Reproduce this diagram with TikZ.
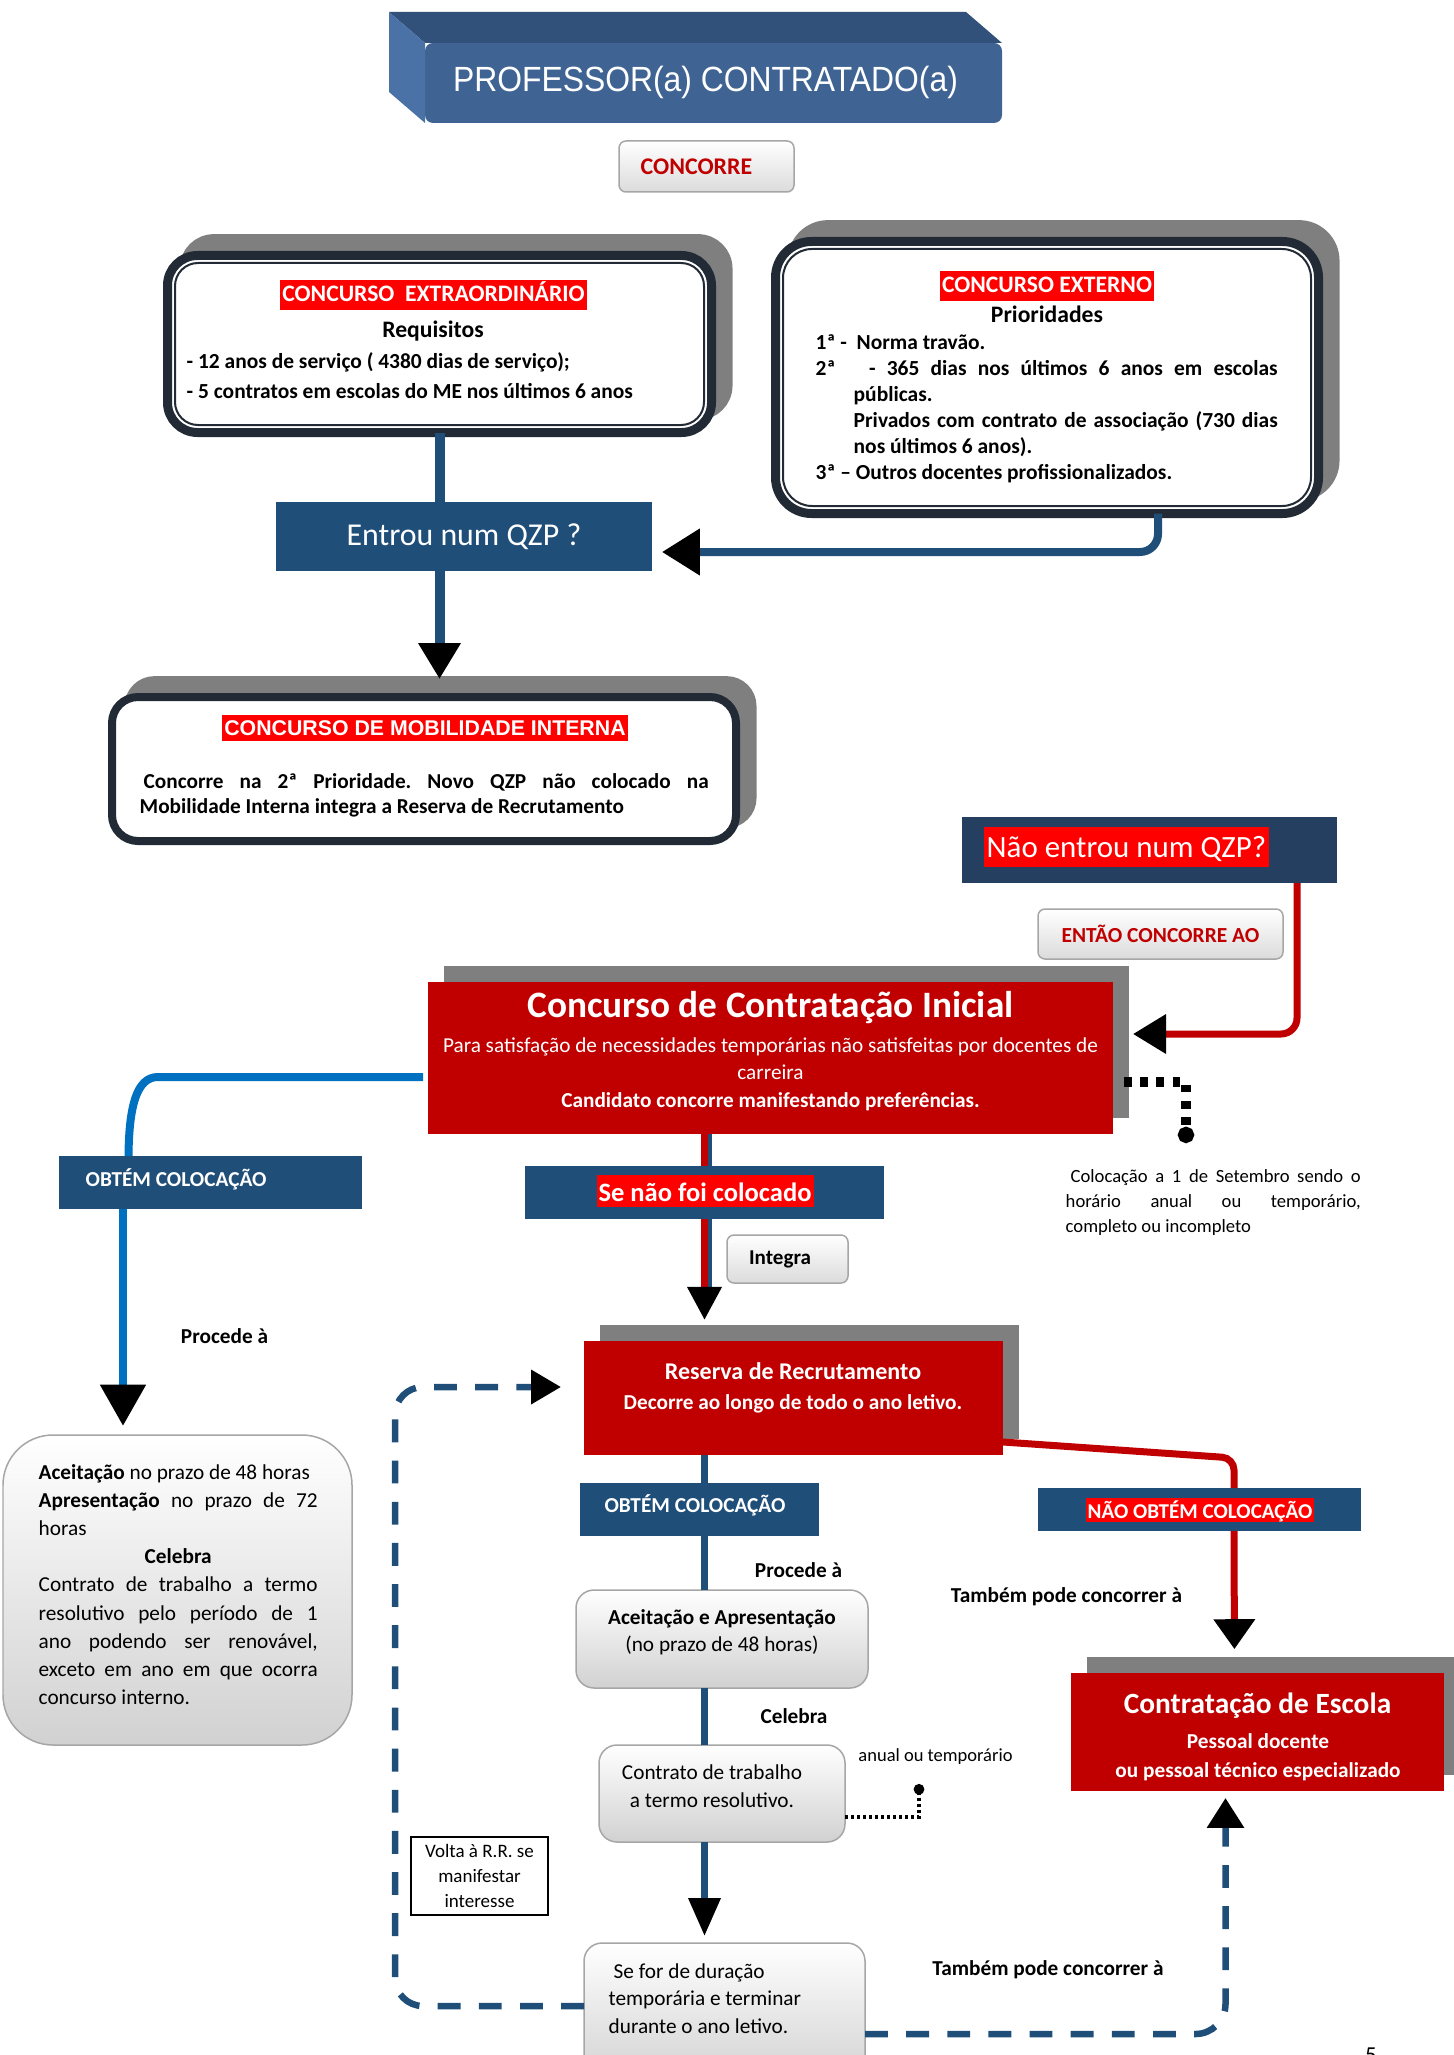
\documentclass[tikz,border=0pt]{standalone}
\usepackage{fontspec}
\setmainfont{Carlito}
\newfontfamily\arialf{Liberation Sans}
\newfontfamily\titlef[FakeStretch=0.91]{Liberation Sans}
\usetikzlibrary{calc,arrows.meta,shadows}
\frenchspacing
\newlength{\pxu}
\setlength{\pxu}{0.01cm}
\definecolor{navyq}{HTML}{1F4E79}
\definecolor{navyd}{HTML}{243F60}
\definecolor{redq}{HTML}{C00000}
\definecolor{redhl}{HTML}{FF0000}
\definecolor{blueq}{HTML}{0070C0}
\definecolor{shadowq}{HTML}{7F7F7F}
\definecolor{frameq}{HTML}{222A35}
\definecolor{titfront}{HTML}{3F6493}
\definecolor{tittop}{HTML}{31507A}
\definecolor{titside}{HTML}{4A72A6}
\definecolor{btnline}{HTML}{A6A6A6}

\begin{document}
\begin{tikzpicture}[x=0.01cm, y=-0.01cm,
  txt/.style={inner sep=0pt, font=\fontsize{6.05pt}{7.4pt}\selectfont},
  txtb/.style={inner sep=0pt, font=\fontsize{6.05pt}{7.4pt}\selectfont\bfseries},
  wtxt/.style={txtb, text=white},
  framebox/.style={draw=frameq, fill=white, line width=9\pxu, outer sep=0pt, inner sep=0pt,
    general shadow={fill=shadowq, draw=shadowq, shadow xshift=4.7pt, shadow yshift=4.8pt}},
  navybox/.style={fill=navyq, outer sep=0pt, inner sep=0pt},
  redbox/.style={fill=redq, outer sep=0pt, inner sep=0pt,
    general shadow={fill=shadowq, shadow xshift=4.55pt, shadow yshift=4.55pt}},
  btn/.style={draw=btnline, line width=1.5\pxu, rounded corners=7\pxu, top color=white, bottom color=black!14, outer sep=0pt, inner sep=0pt},
  gbox/.style={draw=btnline, line width=1.5\pxu, top color=white, bottom color=black!18, outer sep=0pt, inner sep=0pt},
  redtag/.style={fill=redhl, text=white, inner xsep=2\pxu}]
\useasboundingbox (0,0) rectangle (1453,2055);

\node[fill=titfront, rounded corners=8\pxu, minimum width=577\pxu, minimum height=80\pxu, outer sep=0pt, inner sep=0pt] (titulo) at (713.5,83) {};
\fill[tittop] ($(titulo.north west)+(-36,-31)$) -- ($(titulo.north east)+(-36,-31)$) -- (titulo.north east) -- (titulo.north west) -- cycle;
\fill[titside] ($(titulo.north west)+(-36,-31)$) -- (titulo.north west) -- (titulo.south west) -- ($(titulo.south west)+(-36,-31)$) -- cycle;
\node[txt, font=\titlef\fontsize{9.95pt}{12pt}\selectfont, text=white, anchor=base] (titulotxt) at (705.5,92) {PROFESSOR(a) CONTRATADO(a)};

\node[btn, minimum width=175\pxu, minimum height=51\pxu, text=redq, font=\fontsize{6.8pt}{8pt}\selectfont\bfseries] (concorre) at (706.5,166.5) {\hspace*{-20\pxu}CONCORRE};

\node[framebox, rounded corners=30\pxu, minimum width=544\pxu, minimum height=177\pxu] (extra) at (439.5,344) {};
\draw[frameq, line width=2\pxu, rounded corners=23\pxu] ($(extra.north west)+(7.5,7.5)$) rectangle ($(extra.south east)+(-7.5,-7.5)$);
\node[redtag, font=\fontsize{6.72pt}{8pt}\selectfont\bfseries, text height=17\pxu, text depth=3\pxu, inner ysep=5\pxu, anchor=base] (extratag) at (433.5,302) {CONCURSO\ \ EXTRAORDINÁRIO};
\node[txtb, font=\fontsize{6.72pt}{8pt}\selectfont\bfseries, anchor=base] (extrareq) at (433,338) {Requisitos};
\node[txtb, align=left, font=\fontsize{6.1pt}{8.6pt}\selectfont\bfseries, anchor=base west] (extralist) at (186,399) {- 12 anos de serviço ( 4380 dias de serviço);\\- 5 contratos em escolas do ME nos últimos 6 anos};

\node[framebox, rounded corners=36\pxu, minimum width=543\pxu, minimum height=272\pxu] (externo) at (1047,377.5) {};
\draw[frameq, line width=2\pxu, rounded corners=29\pxu] ($(externo.north west)+(7.5,7.5)$) rectangle ($(externo.south east)+(-7.5,-7.5)$);
\node[redtag, font=\fontsize{6.72pt}{8pt}\selectfont\bfseries, text height=17\pxu, text depth=3\pxu, inner ysep=5\pxu, anchor=base] (externotag) at (1047,293) {CONCURSO EXTERNO};
\node[txtb, font=\fontsize{6.72pt}{8pt}\selectfont\bfseries, anchor=base] (externoprio) at (1047,323) {Prioridades};
\node[txtb, align=left, font=\fontsize{6.1pt}{7.34pt}\selectfont\bfseries, anchor=base west] (externolist) at (815,479) {1ª -\ \ Norma travão.\\
\makebox[462\pxu][s]{2ª\ \ \ - 365 dias nos últimos 6 anos em escolas}\\
\hspace*{38\pxu}públicas.\\
\hspace*{38\pxu}\makebox[424\pxu][s]{Privados com contrato de associação (730 dias}\\
\hspace*{38\pxu}nos últimos 6 anos).\\
3ª – Outros docentes profissionalizados.};

\node[navybox, minimum width=376\pxu, minimum height=69\pxu, text=white, font=\fontsize{9.05pt}{11pt}\selectfont] (entrou) at (464,536.5) {Entrou num QZP ?};

\node[framebox, line width=8\pxu, rounded corners=26\pxu, minimum width=624\pxu, minimum height=144\pxu] (mobil) at (424,769) {};
\node[redtag, font=\arialf\fontsize{6.06pt}{7pt}\selectfont\bfseries, text height=15.5\pxu, text depth=1\pxu, inner ysep=4.5\pxu, anchor=base] (mobiltag) at (425,735) {CONCURSO DE MOBILIDADE INTERNA};
\node[txtb, align=left, font=\fontsize{6.05pt}{7.1pt}\selectfont\bfseries, anchor=base west] (mobiltxt) at (139,813) {\hspace*{4\pxu}\makebox[565\pxu][s]{Concorre na 2ª Prioridade. Novo QZP não colocado na}\\Mobilidade Interna integra a Reserva de Recrutamento};

\node[fill=navyd, outer sep=0pt, inner sep=0pt, minimum width=375\pxu, minimum height=66\pxu] (naoentrou) at (1149.5,850) {};
\node[redtag, font=\fontsize{8.8pt}{10pt}\selectfont, text height=25\pxu, text depth=5\pxu, inner ysep=5\pxu, inner xsep=3\pxu, anchor=base] (naotag) at (1126.5,857) {Não entrou num QZP?};

\node[btn, minimum width=245\pxu, minimum height=50\pxu, text=redq, font=\fontsize{6.1pt}{7pt}\selectfont\bfseries] (entao) at (1160.5,934) {ENTÃO CONCORRE AO};

\node[redbox, minimum width=685\pxu, minimum height=152\pxu] (cci) at (770.5,1058) {};
\node[wtxt, font=\fontsize{10.6pt}{12pt}\selectfont\bfseries, anchor=base] (ccitit) at (770.5,1017) {Concurso de Contratação Inicial};
\node[txt, text=white, align=center, font=\fontsize{6.05pt}{7.8pt}\selectfont, anchor=base] (ccitxt) at (770.5,1107) {Para satisfação de necessidades temporárias não satisfeitas por docentes de\\carreira\\\textbf{Candidato concorre manifestando preferências.}};

\node[navybox, minimum width=303\pxu, minimum height=53\pxu] (obtemA) at (210.5,1182.5) {};
\node[wtxt, anchor=base west] (obtemAtxt) at (85,1186) {OBTÉM COLOCAÇÃO};
\node[txtb, anchor=base] (procA) at (224.5,1343) {Procede à};

\node[gbox, rounded corners=50\pxu, minimum width=349\pxu, minimum height=310\pxu] (aceitA) at (177.5,1590) {};
\node[txt, align=left, font=\fontsize{6.05pt}{8pt}\selectfont, anchor=base west] (aceitAtxt) at (38,1704.5) {\textbf{Aceitação} no prazo de 48 horas\\
\makebox[279\pxu][s]{\textbf{Apresentação} no prazo de 72}\\
horas\\
\makebox[279\pxu][c]{\textbf{Celebra}}\\
\makebox[279\pxu][s]{Contrato de trabalho a termo}\\
\makebox[279\pxu][s]{resolutivo pelo período de 1}\\
\makebox[279\pxu][s]{ano podendo ser renovável,}\\
\makebox[279\pxu][s]{exceto em ano em que ocorra}\\
concurso interno.};

\node[navybox, minimum width=359\pxu, minimum height=53\pxu] (senao) at (704.5,1192.5) {};
\node[redtag, font=\fontsize{7.55pt}{9pt}\selectfont\bfseries, text height=22\pxu, text depth=2\pxu, inner ysep=4\pxu, anchor=base] (senaotag) at (705,1201) {Se não foi colocado};

\node[btn, minimum width=121\pxu, minimum height=48\pxu, font=\fontsize{6pt}{7pt}\selectfont\bfseries] (integra) at (787.5,1259) {\hspace*{-15\pxu}Integra};

\node[txt, align=left, font=\fontsize{5.3pt}{7pt}\selectfont, anchor=base west] (coloc) at (1065,1232) {\hspace*{5\pxu}\makebox[290\pxu][s]{Colocação a 1 de Setembro sendo o}\\\makebox[295\pxu][s]{horário anual ou temporário,}\\completo ou incompleto};
\coordinate (cipdot) at (1186,1143);

\node[redbox, minimum width=419\pxu, minimum height=114\pxu] (reserva) at (793.5,1398) {};
\node[wtxt, font=\fontsize{6.83pt}{8pt}\selectfont\bfseries, anchor=base] (reservatit) at (793,1379) {Reserva de Recrutamento};
\node[wtxt, anchor=base] (reservatxt) at (793,1409) {Decorre ao longo de todo o ano letivo.};

\node[navybox, minimum width=239\pxu, minimum height=53\pxu] (obtemB) at (699.5,1509.5) {};
\node[wtxt, anchor=base] (obtemBtxt) at (695,1512) {OBTÉM COLOCAÇÃO};

\node[navybox, minimum width=323\pxu, minimum height=43\pxu] (naoobtem) at (1199.5,1509.5) {};
\node[redtag, font=\fontsize{6pt}{7pt}\selectfont\bfseries, text height=16\pxu, text depth=0pt, inner ysep=4\pxu, anchor=base] (naoobtemtag) at (1200,1518) {NÃO OBTÉM COLOCAÇÃO};

\node[txtb, anchor=base] (procB) at (798.5,1577) {Procede à};
\node[gbox, rounded corners=18\pxu, minimum width=292\pxu, minimum height=98\pxu] (aceitB) at (722,1639) {};
\node[txt, align=center, font=\fontsize{6.05pt}{7.4pt}\selectfont, anchor=base] (aceitBtxt) at (722,1651) {\textbf{Aceitação e Apresentação}\\(no prazo de 48 horas)};
\node[txtb, anchor=base] (celebra) at (794,1723) {Celebra};
\node[gbox, rounded corners=18\pxu, minimum width=246\pxu, minimum height=97\pxu] (contrato) at (722,1793.5) {};
\node[txt, align=center, font=\fontsize{6.05pt}{7.7pt}\selectfont, anchor=base] (contratotxt) at (712,1807) {Contrato de trabalho\\a termo resolutivo.};
\node[txt, font=\fontsize{5.26pt}{6pt}\selectfont, anchor=base] (anual) at (935.5,1761) {anual ou temporário};
\coordinate (anualdot) at (919,1784);

\node[draw=black, line width=2\pxu, fill=white, minimum width=137\pxu, minimum height=78\pxu, align=center, inner sep=0pt, font=\fontsize{5.4pt}{7.1pt}\selectfont] (volta) at (479.5,1876) {Volta à R.R. se\\manifestar\\interesse};

\node[gbox, rounded corners=18\pxu, minimum width=281\pxu, minimum height=140\pxu] (sefor) at (724.5,2013) {};
\node[txt, align=left, font=\fontsize{6.05pt}{7.8pt}\selectfont, anchor=base west] (sefortxt) at (608,2033) {\hspace*{5\pxu}Se for de duração\\temporária e terminar\\durante o ano letivo.};

\node[redbox, minimum width=373\pxu, minimum height=118\pxu] (escola) at (1257.5,1732) {};
\node[wtxt, font=\fontsize{8.35pt}{10pt}\selectfont\bfseries, anchor=base] (escolatit) at (1257.5,1713) {Contratação de Escola};
\node[wtxt, align=center, font=\fontsize{6.05pt}{8.25pt}\selectfont\bfseries, anchor=base] (escolatxt) at (1258,1777) {Pessoal docente\\ou pessoal técnico especializado};

\node[txtb, anchor=base] (tambemA) at (1066.5,1602) {Também pode concorrer à};
\node[txtb, anchor=base] (tambemB) at (1048,1975) {Também pode concorrer à};
\node[txt, anchor=north, font=\fontsize{6.5pt}{7pt}\selectfont] (pagina) at (1371,2047) {5};

\draw[navyq, line width=10\pxu] (extra.south) -- (extra.south |- entrou.north);
\draw[navyq, line width=10\pxu, -{Triangle[length=10.2pt,width=11.4pt,color=black]}, shorten >=5.1pt] (entrou.south -| extra.south) -- (mobil.north -| extra.south);
\draw[navyq, line width=8\pxu, rounded corners=18\pxu, -{Triangle[length=10.8pt,width=12.8pt,color=black]}] ($(externo.south)+(111,0)$) |- ($(entrou.east)+(10,15.5)$);
\draw[redq, line width=7\pxu, rounded corners=16\pxu, -{Triangle[length=9.4pt,width=10.8pt,color=black]}] ($(naoentrou.south)+(147.5,0)$) |- ($(cci.east)+(20,-24)$);
\draw[black, line width=10\pxu, dash pattern=on 2.2pt off 2.4pt, -{Circle[length=4.6pt,width=4.6pt]}] ($(cci.east)+(11,24)$) -| (cipdot);
\draw[blueq, line width=8\pxu] ($(cci.west)+(-5,19)$) -- ($(obtemA.north)+(-52.5,-79)$) .. controls +(-21,0) and +(0.5,-51) .. ($(obtemA.north)+(-82,0)$);
\draw[blueq, line width=8\pxu, -{Triangle[length=11.7pt,width=12.5pt,color=black]}, shorten >=2.6pt] ($(obtemA.south)+(-87.5,0)$) -- ($(aceitA.north)+(-54.5,0)$);
\draw[navyq, line width=4\pxu] ($(senao.north |- cci.south)+(5,0)$) -- ($(senao.north)+(5,0)$);
\draw[redq, line width=7\pxu] (senao.north |- cci.south) -- (senao.north);
\draw[navyq, line width=4\pxu] ($(senao.south)+(5,0)$) -- ($(senao.south |- reserva.north)+(5,-54)$);
\draw[redq, line width=7\pxu, -{Triangle[length=9.4pt,width=9.4pt,color=black]}, shorten >=6pt] (senao.south) -- (senao.south |- reserva.north);
\draw[navyq, line width=7\pxu] (reserva.south -| senao.south) -- (obtemB.north -| senao.south);
\draw[navyq, line width=7\pxu] (obtemB.south -| senao.south) -- (aceitB.north -| senao.south);
\draw[navyq, line width=7\pxu] (aceitB.south -| senao.south) -- (contrato.north -| senao.south);
\draw[navyq, line width=7\pxu, -{Triangle[length=10.8pt,width=8.8pt,color=black]}, shorten >=2pt] (contrato.south -| senao.south) -- (sefor.north -| senao.south);
\draw[black, line width=3.5\pxu, dash pattern=on 0.9pt off 0.8pt, -{Circle[length=3pt,width=3pt]}] ($(contrato.east)+(0,23.5)$) -| (anualdot);
\draw[navyq, line width=6.5\pxu, dash pattern=on 6.5pt off 5.2pt, rounded corners=28\pxu, -{Triangle[length=8.5pt,width=9.4pt,color=black]}] ($(sefor.west)+(0,-7)$) -| ($(aceitA.east)+(43,0)$) |- ($(reserva.west)+(-23,-11)$);
\draw[navyq, line width=6.5\pxu, dash pattern=on 6.5pt off 5.2pt, rounded corners=30\pxu, -{Triangle[length=8.5pt,width=10.2pt,color=black]}] ($(sefor.east)+(0,21)$) -| ($(escola.south)+(-32,7)$);
\draw[redq, line width=7\pxu, rounded corners=12\pxu] ($(reserva.east)+(0,44)$) -- ($(naoobtem.north)+(34.5,-30)$) -- ($(naoobtem.north)+(34.5,0)$);
\draw[redq, line width=7\pxu, -{Triangle[length=8.5pt,width=11.4pt,color=black]}, shorten >=6.8pt] ($(naoobtem.south)+(34.5,0)$) -- ($(escola.north)+(-23,0)$);
\end{tikzpicture}
\end{document}
